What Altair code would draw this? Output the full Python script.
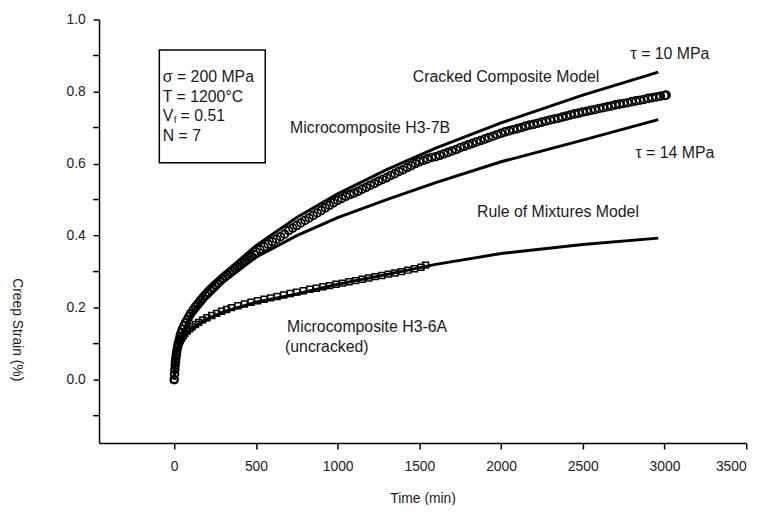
import altair as alt
import pandas as pd

# ---------------- data ----------------
# Microcomposite H3-7B (cracked) measured creep strain
h37b_t = [0, 2, 4, 6, 8, 10, 13, 16, 20, 25, 30, 36, 42, 50, 60, 70, 80, 90, 100, 115, 130, 145,
          160, 175, 190, 205, 220, 235, 250, 265, 280, 295, 310, 325, 340, 355, 370, 385, 400,
          415, 430, 445, 460, 475, 490,
          500, 525, 550, 575, 600, 625, 650, 675, 700, 725, 750, 775, 800, 825, 850, 875, 900,
          925, 950, 975, 1000, 1025, 1050, 1075, 1100, 1125, 1150, 1175, 1200, 1225, 1250, 1275,
          1300, 1325, 1350, 1375, 1400, 1425, 1450, 1475, 1500, 1525, 1550, 1575, 1600, 1625,
          1650, 1675, 1700, 1725, 1750, 1775, 1800, 1825, 1850, 1875, 1900, 1925, 1950, 1975,
          2000, 2025, 2050, 2075, 2100, 2125, 2150, 2175, 2200, 2225, 2250, 2275, 2300, 2325,
          2350, 2375, 2400, 2425, 2450, 2475, 2500, 2525, 2550, 2575, 2600, 2625, 2650, 2675,
          2700, 2725, 2750, 2775, 2800, 2825, 2850, 2875, 2900, 2925, 2950, 2975, 3000, 3010]
h37b_y = [0.0, 0.015, 0.028, 0.04, 0.05, 0.06, 0.07, 0.079, 0.09, 0.1, 0.11, 0.12, 0.13, 0.14,
          0.15, 0.159, 0.167, 0.175, 0.183, 0.193, 0.203, 0.211, 0.22, 0.228, 0.236, 0.243, 0.25,
          0.256, 0.263, 0.269, 0.275, 0.281, 0.287, 0.292, 0.298, 0.303, 0.309, 0.314, 0.319,
          0.324, 0.329, 0.333, 0.338, 0.342, 0.347,
          0.355, 0.362, 0.369, 0.376, 0.383, 0.39, 0.397, 0.404,
          0.414, 0.421, 0.428, 0.435, 0.442, 0.449, 0.456, 0.463, 0.47, 0.477, 0.484, 0.491,
          0.498, 0.503, 0.509, 0.514,
          0.518, 0.523, 0.529, 0.534, 0.54, 0.545, 0.551, 0.556, 0.561, 0.567, 0.572, 0.578,
          0.583, 0.589, 0.594, 0.6, 0.605, 0.609, 0.613, 0.617,
          0.619, 0.623, 0.627, 0.631, 0.635, 0.639, 0.644, 0.648, 0.652, 0.656, 0.66, 0.664,
          0.668, 0.672, 0.676, 0.68, 0.684, 0.688, 0.691, 0.694, 0.697, 0.7, 0.704, 0.707,
          0.709, 0.712, 0.715, 0.718, 0.721, 0.724, 0.726, 0.729, 0.732, 0.735, 0.738, 0.74,
          0.743, 0.745, 0.748, 0.75, 0.753, 0.755, 0.758, 0.76, 0.763, 0.765, 0.767, 0.769,
          0.772, 0.774, 0.776, 0.778, 0.781, 0.783, 0.785, 0.787, 0.789, 0.79]

# Microcomposite H3-6A (uncracked) measured creep strain
h36a_t = [0, 3, 6, 10, 15, 20, 28, 36, 45, 55, 65, 80, 95, 110, 130, 150, 175, 200, 230, 260, 290,
          320, 350, 390, 430, 470, 510, 550, 590, 630, 670, 710, 750, 790, 830, 870, 910, 950, 990,
          1030, 1070, 1110, 1150, 1190, 1230, 1270, 1310, 1350, 1390, 1430, 1470, 1510, 1538]
h36a_y = [0.0, 0.03, 0.05, 0.065, 0.08, 0.09, 0.1, 0.108, 0.115, 0.122, 0.128, 0.135, 0.141, 0.147,
          0.153, 0.159, 0.166, 0.172, 0.178, 0.184, 0.19, 0.195, 0.2, 0.205, 0.21, 0.215, 0.219,
          0.223, 0.227, 0.231, 0.235, 0.239, 0.243, 0.247, 0.251, 0.254, 0.258, 0.261, 0.265,
          0.268, 0.272, 0.275, 0.279, 0.282, 0.286, 0.289, 0.293, 0.296, 0.3, 0.304, 0.308,
          0.312, 0.318]

# Model curves
model_t = [0, 5, 15, 30, 60, 100, 200, 300, 500, 750, 1000, 1300, 1600, 2000, 2500, 2962]
tau10_y = [0.0, 0.05, 0.08, 0.10, 0.14, 0.18, 0.245, 0.294, 0.372, 0.45, 0.516, 0.583, 0.643,
           0.713, 0.79, 0.854]
tau14_y = [0.0, 0.05, 0.08, 0.10, 0.135, 0.17, 0.225, 0.27, 0.34, 0.40, 0.45, 0.50, 0.547,
           0.605, 0.665, 0.722]
rom_y = [0.0, 0.04, 0.075, 0.095, 0.12, 0.14, 0.168, 0.188, 0.215, 0.238, 0.265, 0.292, 0.32,
         0.35, 0.375, 0.393]

# Annotation labels (text, time, strain)
label_text = ["τ = 10 MPa", "Cracked Composite Model", "Microcomposite H3-7B", "τ = 14 MPa",
              "Rule of Mixtures Model", "Microcomposite H3-6A", "(uncracked)"]
label_t = [2792, 1460, 709, 2822, 1853, 690, 678]
label_y = [0.904, 0.841, 0.698, 0.629, 0.464, 0.146, 0.091]

# Conditions box
box_x = [-91]
box_x2 = [557]
box_y = [0.915]
box_y2 = [0.602]
cond_text = ["σ = 200 MPa", "T = 1200°C", "V", "N = 7"]
cond_t = [-70, -70, -70, -70]
cond_y = [0.841, 0.786, 0.731, 0.676]

x_ticks = [0, 500, 1000, 1500, 2000, 2500, 3000, 3500]
y_major = [0.0, 0.2, 0.4, 0.6, 0.8, 1.0]
y_minor = [-0.1, 0.1, 0.3, 0.5, 0.7, 0.9]

# ---------------- frames ----------------
df_h37b = pd.DataFrame({"t": h37b_t, "y": h37b_y})
df_h36a = pd.DataFrame({"t": h36a_t, "y": h36a_y})
df_models = pd.concat([
    pd.DataFrame({"t": model_t, "y": tau10_y, "s": "tau10"}),
    pd.DataFrame({"t": model_t, "y": tau14_y, "s": "tau14"}),
    pd.DataFrame({"t": model_t, "y": rom_y, "s": "rom"}),
])
df_labels = pd.DataFrame({"t": label_t, "y": label_y, "txt": label_text})
df_box = pd.DataFrame({"t": box_x, "t2": box_x2, "y": box_y, "y2": box_y2})
df_cond = pd.DataFrame({"t": cond_t, "y": cond_y, "txt": cond_text})

FONT = "Liberation Sans"
TXT = "#1a1a1a"

xscale = alt.Scale(domain=[-460, 3500], nice=False, zero=False)
yscale = alt.Scale(domain=[-0.176, 1.0], nice=False, zero=False)

xaxis = alt.Axis(values=x_ticks, format="d", title="Time (min)", grid=False, domainColor="black",
                 domainWidth=1.5, tickColor="black", tickWidth=1.5, tickSize=6,
                 labelFont=FONT, labelFontSize=14, labelColor=TXT, labelPadding=11,
                 titleFont=FONT, titleFontSize=14, titleFontWeight="normal", titleColor=TXT,
                 titleY=56, titleBaseline="middle")
yaxis = alt.Axis(values=y_major, format=".1f", title="Creep Strain (%)", grid=False,
                 domainColor="black", domainWidth=1.5, tickColor="black", tickWidth=1.5,
                 tickSize=6, labelFont=FONT, labelFontSize=14, labelColor=TXT, labelPadding=8,
                 titleFont=FONT, titleFontSize=14, titleFontWeight="normal", titleColor=TXT,
                 titleAngle=90, titleX=-83, titleY=313, titleAlign="center",
                 titleBaseline="middle")

X = alt.X("t:Q", scale=xscale, axis=xaxis)
Y = alt.Y("y:Q", scale=yscale, axis=yaxis)

models = alt.Chart(df_models).mark_line(color="black", strokeWidth=3).encode(
    x=X, y=Y, detail="s:N")

pts_7b = alt.Chart(df_h37b).mark_point(shape="circle", filled=False, color="black",
                                       size=60, strokeWidth=1.9, opacity=1).encode(x=X, y=Y)
pts_6a = alt.Chart(df_h36a).mark_point(shape="square", filled=False, color="black",
                                       size=36, strokeWidth=1.5, opacity=1).encode(x=X, y=Y)

labels = alt.Chart(df_labels).mark_text(align="left", baseline="middle", font=FONT,
                                        fontSize=16, color=TXT).encode(
    x=X, y=Y, text="txt:N")

box = alt.Chart(df_box).mark_rect(fill=None, stroke="black", strokeWidth=1.5).encode(
    x=X, x2="t2:Q", y=Y, y2="y2:Q")

cond = alt.Chart(df_cond).mark_text(align="left", baseline="middle", font=FONT,
                                    fontSize=16, color=TXT).encode(
    x=X, y=Y, text="txt:N")
vf_sub = alt.Chart(df_cond.iloc[[2]]).mark_text(align="left", baseline="middle", font=FONT,
                                                fontSize=10, color=TXT, dx=11, dy=4).encode(
    x=X, y=Y, text=alt.value("f"))
vf_rest = alt.Chart(df_cond.iloc[[2]]).mark_text(align="left", baseline="middle", font=FONT,
                                                 fontSize=16, color=TXT, dx=18).encode(
    x=X, y=Y, text=alt.value("= 0.51"))

# minor y ticks (unlabelled), drawn just left of the y axis at the scale positions
df_minor = pd.DataFrame({"y": y_minor})
minor = alt.Chart(df_minor).mark_rule(color="black", strokeWidth=1.5).encode(
    x=alt.value(-6), x2=alt.value(0), y=Y)

chart = alt.layer(models, pts_7b, pts_6a, box, cond, vf_sub, vf_rest, labels, minor).properties(
    width=654, height=428,
    autosize=alt.AutoSizeParams(type="none"),
    padding={"left": 92, "top": 9, "right": 20, "bottom": 60},
    background="white",
).configure_view(stroke=None)

chart.save("out.html", embed_options={"renderer": "svg", "actions": False})
